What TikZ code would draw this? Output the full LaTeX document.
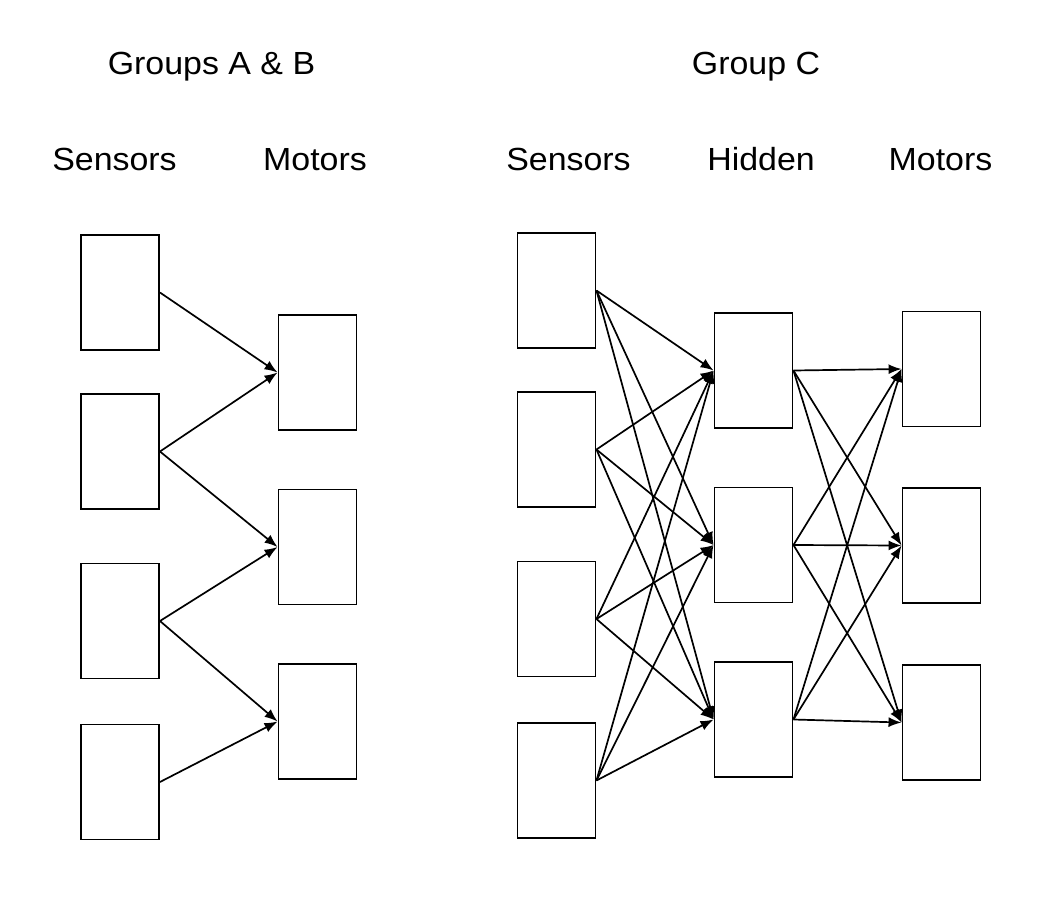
\documentclass[tikz,border=0pt]{standalone}
\usepackage{fontspec}
\setmainfont{Liberation Sans}[FakeStretch=1.06]
\usetikzlibrary{arrows.meta}
\begin{document}
\begin{tikzpicture}[x=1pt,y=-1pt,
  unit/.style={draw, line width=1.9pt, minimum width=78pt, minimum height=115pt, inner sep=0pt},
  lbl/.style={anchor=base, inner sep=0pt, font=\fontsize{32}{36}\selectfont},
  conn/.style={line width=1.7pt, -{Latex[length=13pt,width=10pt]}}]
\useasboundingbox (0,0) rectangle (1046,902);
% titles
\node[lbl] (tAB) at (211.5,74) {Groups A \& B};
\node[lbl] (tC) at (756,74) {Group C};
\node[lbl] (hS1) at (114.5,170) {Sensors};
\node[lbl] (hM1) at (315,170) {Motors};
\node[lbl] (hS2) at (568.5,170) {Sensors};
\node[lbl] (hH) at (761,170) {Hidden};
\node[lbl] (hM2) at (940.5,170) {Motors};
% groups A & B
\node[unit] (L1) at (120,292.5) {};
\node[unit] (L2) at (120,451.5) {};
\node[unit] (L3) at (120,621) {};
\node[unit] (L4) at (120,782) {};
\node[unit] (LM1) at (317.5,372.5) {};
\node[unit] (LM2) at (317.5,547) {};
\node[unit] (LM3) at (317.5,721.5) {};
\draw[conn] (L1.east) -- (LM1.west);
\draw[conn] (L2.east) -- (LM1.west);
\draw[conn] (L2.east) -- (LM2.west);
\draw[conn] (L3.east) -- (LM2.west);
\draw[conn] (L3.east) -- (LM3.west);
\draw[conn] (L4.east) -- (LM3.west);
% group C
\node[unit] (R1) at (556.5,290.5) {};
\node[unit] (R2) at (556.5,449.5) {};
\node[unit] (R3) at (556.5,619) {};
\node[unit] (R4) at (556.5,780.5) {};
\node[unit] (H1) at (753.5,370.5) {};
\node[unit] (H2) at (753.5,545) {};
\node[unit] (H3) at (753.5,719.5) {};
\node[unit] (M1) at (941.5,369) {};
\node[unit] (M2) at (941.5,545.5) {};
\node[unit] (M3) at (941.5,722.5) {};
\foreach \s in {R1,R2,R3,R4}{
  \foreach \h in {H1,H2,H3}{
    \draw[conn] (\s.east) -- (\h.west);
  }
}
\foreach \h in {H1,H2,H3}{
  \foreach \m in {M1,M2,M3}{
    \draw[conn] (\h.east) -- (\m.west);
  }
}
\end{tikzpicture}
\end{document}
